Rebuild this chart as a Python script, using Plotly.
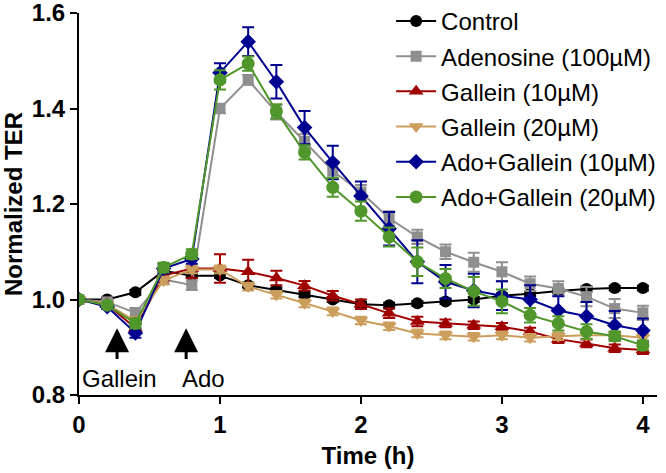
import plotly.graph_objects as go

time_h = [round(0.2 * i, 1) for i in range(21)]

control = [1.0, 1.0, 1.015, 1.06, 1.05, 1.05, 1.03, 1.02, 1.01, 1.0, 0.99, 0.988, 0.992, 0.996, 1.0, 1.008, 1.012, 1.018, 1.022, 1.024, 1.024]
control_err = [0.0, 0.004, 0.005, 0.005, 0.005, 0.005, 0.005, 0.005, 0.005, 0.005, 0.005, 0.005, 0.005, 0.005, 0.005, 0.005, 0.005, 0.005, 0.005, 0.005, 0.005]

adenosine = [1.0, 0.995, 0.972, 1.042, 1.03, 1.40, 1.46, 1.392, 1.331, 1.269, 1.225, 1.17, 1.131, 1.10, 1.078, 1.058, 1.033, 1.023, 1.006, 0.981, 0.972]
adenosine_err = [0.0, 0.005, 0.01, 0.01, 0.01, 0.01, 0.01, 0.015, 0.015, 0.015, 0.015, 0.015, 0.015, 0.015, 0.02, 0.02, 0.015, 0.015, 0.02, 0.02, 0.015]

gallein10 = [1.0, 0.99, 0.94, 1.05, 1.065, 1.065, 1.058, 1.045, 1.029, 1.008, 0.99, 0.971, 0.954, 0.95, 0.946, 0.943, 0.933, 0.917, 0.908, 0.898, 0.894]
gallein10_err = [0.0, 0.005, 0.01, 0.01, 0.02, 0.03, 0.025, 0.015, 0.01, 0.01, 0.01, 0.01, 0.01, 0.008, 0.008, 0.008, 0.008, 0.008, 0.008, 0.008, 0.008]

gallein20 = [1.0, 0.99, 0.955, 1.04, 1.063, 1.063, 1.027, 1.01, 0.992, 0.975, 0.956, 0.944, 0.929, 0.925, 0.922, 0.925, 0.92, 0.923, 0.925, 0.925, 0.92]
gallein20_err = [0.0, 0.005, 0.008, 0.008, 0.008, 0.008, 0.008, 0.008, 0.008, 0.008, 0.008, 0.008, 0.008, 0.008, 0.008, 0.008, 0.008, 0.008, 0.008, 0.008, 0.008]

ado_gallein10 = [1.0, 0.985, 0.93, 1.065, 1.085, 1.475, 1.54, 1.456, 1.36, 1.287, 1.217, 1.148, 1.079, 1.037, 1.019, 1.008, 1.0, 0.977, 0.965, 0.946, 0.935]
ado_gallein10_err = [0.0, 0.005, 0.01, 0.01, 0.01, 0.02, 0.03, 0.035, 0.035, 0.035, 0.03, 0.035, 0.045, 0.035, 0.035, 0.03, 0.03, 0.03, 0.03, 0.03, 0.025]

ado_gallein20 = [1.0, 0.988, 0.95, 1.067, 1.095, 1.46, 1.494, 1.394, 1.308, 1.235, 1.185, 1.131, 1.079, 1.044, 1.017, 0.996, 0.967, 0.95, 0.933, 0.923, 0.904]
ado_gallein20_err = [0.0, 0.005, 0.01, 0.01, 0.01, 0.02, 0.015, 0.015, 0.015, 0.02, 0.02, 0.02, 0.03, 0.02, 0.03, 0.025, 0.015, 0.015, 0.015, 0.01, 0.01]

series_names = ["Control", "Adenosine (100\u00b5M)", "Gallein (10\u00b5M)", "Gallein (20\u00b5M)",
                "Ado+Gallein (10\u00b5M)", "Ado+Gallein (20\u00b5M)"]
series_values = [control, adenosine, gallein10, gallein20, ado_gallein10, ado_gallein20]
series_errors = [control_err, adenosine_err, gallein10_err, gallein20_err, ado_gallein10_err, ado_gallein20_err]
colors = ["#000000", "#8f8f8f", "#a00000", "#cc9e5c", "#000090", "#4f962b"]
symbols = ["circle", "square", "triangle-up", "triangle-down", "diamond", "circle"]
sizes = [12, 11, 13, 13, 12, 13]

x_ticks = [0, 1, 2, 3, 4]
y_ticks = [0.8, 1.0, 1.2, 1.4, 1.6]

arrow_x = [0.27, 0.76]
arrow_labels = ["Gallein", "Ado"]
label_x = [0.29, 0.88]

FONT = "Liberation Sans, Arial, sans-serif"

fig = go.Figure()
for i, (name, vals, errs) in enumerate(zip(series_names, series_values, series_errors)):
    fig.add_trace(go.Scatter(
        x=time_h, y=vals, name=name, mode="lines+markers",
        line=dict(color=colors[i], width=2),
        marker=dict(symbol=symbols[i], size=sizes[i], color=colors[i]),
        error_y=dict(type="data", array=errs, visible=True, color=colors[i], thickness=2, width=6),
        legendgroup=str(i),
    ))

for ax_, lab, lx in zip(arrow_x, arrow_labels, label_x):
    fig.add_annotation(x=ax_, y=0.94, ax=ax_, ay=0.872, xref="x", yref="y", axref="x", ayref="y",
                       text="", showarrow=True, arrowhead=2, arrowsize=1.6, arrowwidth=3, arrowcolor="black")
    fig.add_annotation(x=lx, y=0.834, xref="x", yref="y", text=lab, showarrow=False,
                       font=dict(family=FONT, size=24, color="black"))

fig.update_layout(
    width=666, height=473,
    margin=dict(l=79, r=9, t=13, b=78, autoexpand=False),
    plot_bgcolor="white", paper_bgcolor="white",
    font=dict(family=FONT, color="black"),
    showlegend=True,
    legend=dict(x=0.54, y=1.037, xanchor="left", yanchor="top", bgcolor="rgba(0,0,0,0)",
                font=dict(family=FONT, size=24, color="black"), tracegroupgap=1,
                itemwidth=40),
    xaxis=dict(range=[0, 4.1], tickvals=x_ticks, ticktext=[str(v) for v in x_ticks],
               showgrid=False, zeroline=False, showline=True, linecolor="black", linewidth=2,
               ticks="outside", ticklen=7, tickwidth=2, tickcolor="black", automargin=False,
               ticklabeloverflow="allow",
               tickfont=dict(family=FONT, size=24, weight="bold", color="black"),
               title=dict(text="Time (h)", font=dict(family=FONT, size=24, weight="bold", color="black"), standoff=10)),
    yaxis=dict(range=[0.8, 1.6], tickvals=y_ticks, ticktext=["%.1f" % v for v in y_ticks],
               showgrid=False, zeroline=False, showline=True, linecolor="black", linewidth=2,
               ticks="outside", ticklen=7, tickwidth=2, tickcolor="black", automargin=False,
               ticklabeloverflow="allow",
               tickfont=dict(family=FONT, size=24, weight="bold", color="black"),
               title=dict(text="Normalized TER", font=dict(family=FONT, size=24, weight="bold", color="black"), standoff=10)),
)

fig.write_html("out.html", config={"displayModeBar": False},
               post_script="document.body.style.margin='0px';")
